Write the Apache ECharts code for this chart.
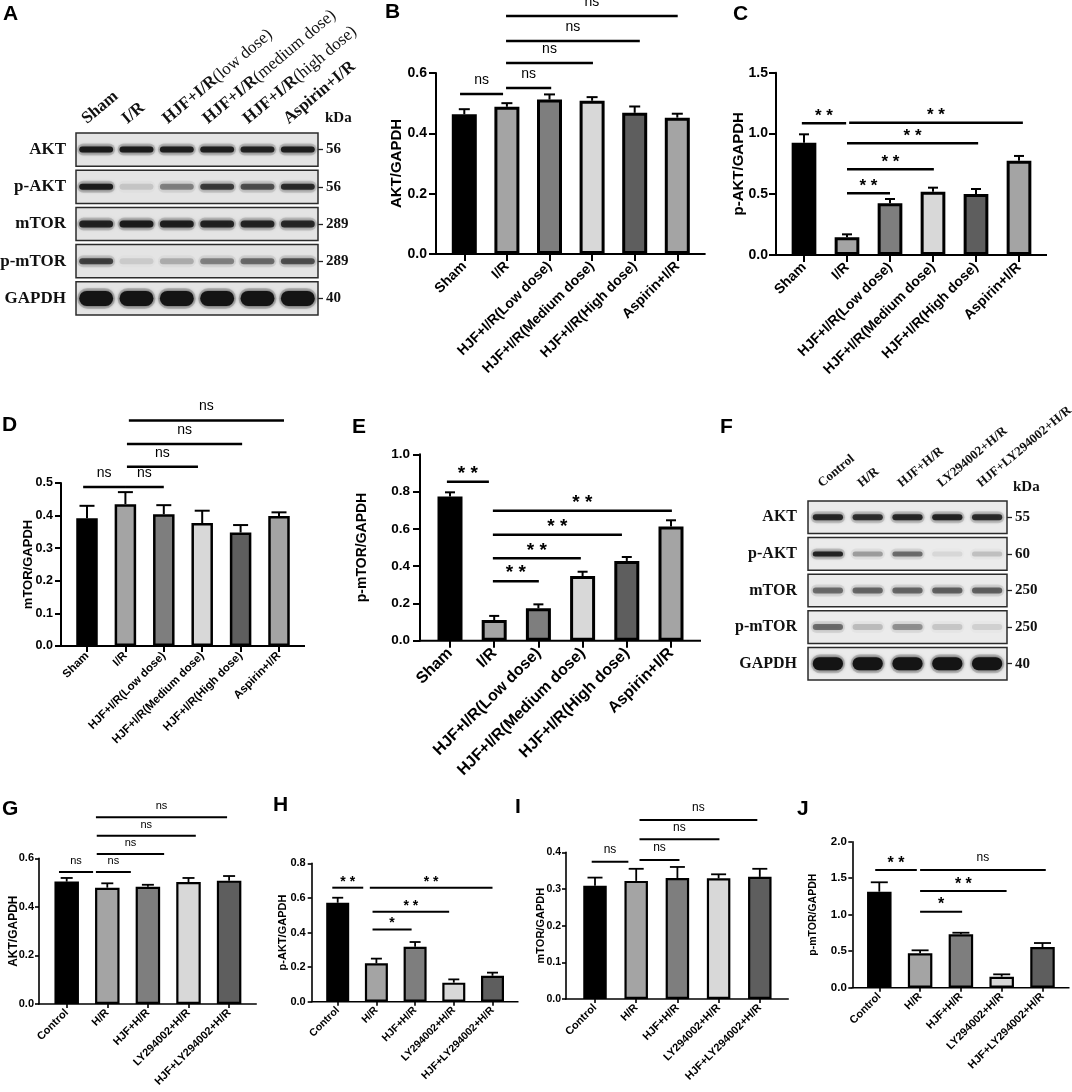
<!DOCTYPE html>
<html>
<head>
<meta charset="utf-8">
<title>HJF AKT/mTOR western blot</title>
<style>
  html, body { margin: 0; padding: 0; background: #fff; }
  #main { width: 1072px; height: 1092px; }
</style>
<script src="https://cdn.jsdelivr.net/npm/echarts@6/dist/echarts.min.js"></script>
</head>
<body>
<div id="main"></div>
<script>
// ---- groups ----
var irGroups = ['Sham', 'I/R', 'HJF+I/R(Low dose)', 'HJF+I/R(Medium dose)', 'HJF+I/R(High dose)', 'Aspirin+I/R'];
var irLanes = ['Sham', 'I/R', 'HJF+I/R(low dose)', 'HJF+I/R(medium dose)', 'HJF+I/R(high dose)', 'Aspirin+I/R'];
var hrGroups = ['Control', 'H/R', 'HJF+H/R', 'LY294002+H/R', 'HJF+LY294002+H/R'];
var blotProteins = ['AKT', 'p-AKT', 'mTOR', 'p-mTOR', 'GAPDH'];
var irKDa = ['56', '56', '289', '289', '40'];
var hrKDa = ['55', '60', '250', '250', '40'];

// band darkness, one row per protein (AKT, p-AKT, mTOR, p-mTOR, GAPDH)
var irBands = [
  [0.92, 0.92, 0.9, 0.9, 0.88, 0.9],
  [0.92, 0.12, 0.4, 0.72, 0.62, 0.82],
  [0.88, 0.92, 0.9, 0.88, 0.86, 0.84],
  [0.7, 0.1, 0.22, 0.4, 0.5, 0.62],
  [1, 1, 1, 1, 1, 1]
];
var hrBands = [
  [0.85, 0.8, 0.85, 0.88, 0.82],
  [0.88, 0.3, 0.5, 0.08, 0.16],
  [0.5, 0.52, 0.52, 0.55, 0.55],
  [0.5, 0.18, 0.35, 0.14, 0.1],
  [1, 1, 1, 1, 1]
];

// ---- B: AKT/GAPDH (I/R) ----
var aktMean = [0.463, 0.488, 0.512, 0.508, 0.468, 0.452];
var aktSem = [0.017, 0.012, 0.017, 0.012, 0.021, 0.013];
// [from, to (category units), height, label]
var aktSig = [[-0.1, 0.91, 0.53, 'ns'], [0.98, 2.04, 0.55, 'ns'], [0.98, 3.02, 0.633, 'ns'], [0.98, 4.12, 0.706, 'ns'], [0.98, 5.01, 0.789, 'ns']];

// ---- C: p-AKT/GAPDH (I/R) ----
var pAktMean = [0.924, 0.146, 0.425, 0.521, 0.502, 0.776];
var pAktSem = [0.069, 0.024, 0.036, 0.033, 0.041, 0.039];
var pAktSig = [[-0.05, 0.98, 1.084, '**'], [1.05, 5.09, 1.089, '**'], [1.0, 4.05, 0.919, '**'], [1.0, 3.02, 0.705, '**'], [1.0, 2.0, 0.508, '**']];

// ---- D: mTOR/GAPDH (I/R) ----
var mTorMean = [0.392, 0.435, 0.404, 0.377, 0.348, 0.399];
var mTorSem = [0.038, 0.037, 0.028, 0.038, 0.023, 0.011];
var mTorSig = [[-0.1, 0.99, 0.488, 'ns'], [0.99, 2.0, 0.488, 'ns'], [1.04, 2.89, 0.55, 'ns'], [1.04, 4.04, 0.62, 'ns'], [1.09, 5.13, 0.692, 'ns']];

// ---- E: p-mTOR/GAPDH (I/R) ----
var pMTorMean = [0.773, 0.111, 0.174, 0.347, 0.428, 0.612];
var pMTorSem = [0.023, 0.022, 0.021, 0.023, 0.021, 0.034];
var pMTorSig = [[-0.07, 0.88, 0.853, '**'], [0.97, 5.02, 0.697, '**'], [0.97, 3.89, 0.569, '**'], [0.97, 2.96, 0.442, '**'], [0.97, 2.01, 0.319, '**']];

// ---- G..J: H/R cells ----
var hrAktMean = [0.504, 0.479, 0.483, 0.502, 0.508];
var hrAktSem = [0.015, 0.018, 0.008, 0.017, 0.019];
var hrAktSig = [[-0.19, 0.65, 0.544, 'ns'], [0.72, 1.58, 0.544, 'ns'], [0.74, 2.4, 0.618, 'ns'], [0.74, 3.18, 0.693, 'ns'], [0.72, 3.95, 0.769, 'ns']];

var hrPAktMean = [0.572, 0.222, 0.318, 0.11, 0.15];
var hrPAktSem = [0.029, 0.027, 0.027, 0.019, 0.018];
var hrPAktSig = [[-0.14, 0.66, 0.659, '**'], [0.83, 4.0, 0.659, '**'], [0.9, 2.88, 0.52, '**'], [0.9, 1.91, 0.418, '*']];

var hrMTorMean = [0.309, 0.322, 0.33, 0.329, 0.333];
var hrMTorSem = [0.022, 0.033, 0.03, 0.011, 0.022];
var hrMTorSig = [[-0.08, 0.81, 0.374, 'ns'], [1.08, 2.05, 0.379, 'ns'], [1.08, 3.02, 0.4355, 'ns'], [1.08, 3.94, 0.488, 'ns']];

var hrPMTorMean = [1.315, 0.471, 0.731, 0.151, 0.557];
var hrPMTorSem = [0.129, 0.041, 0.022, 0.032, 0.055];
var hrPMTorSig = [[-0.1, 0.92, 1.612, '**'], [1.0, 4.08, 1.612, 'ns'], [1.0, 3.12, 1.325, '**'], [1.0, 2.03, 1.041, '*']];

var irColors = ['#000000', '#a4a4a4', '#7e7e7e', '#d8d8d8', '#5e5e5e', '#a4a4a4'];
var hrColors = ['#000000', '#a4a4a4', '#7e7e7e', '#d8d8d8', '#5e5e5e'];

var SANS = "'Liberation Sans', Arial, Helvetica, sans-serif";
var SERIF = "'Liberation Serif', 'Times New Roman', serif";

var option = {
  animation: false,
  backgroundColor: '#ffffff',
  title: [],
  grid: [],
  xAxis: [],
  yAxis: [],
  series: []
};

function letter(t, x, y) {
  option.title.push({
    text: t, left: x, top: y - 3, padding: 0,
    textStyle: { fontFamily: SANS, fontWeight: 'bold', fontSize: 21, color: '#000' }
  });
}

function errorBars(sem, capHalf, lw, pad, axisLw) {
  return function (params, api) {
    var i = api.value(0);
    var m = api.value(1);
    var base = api.coord([i, m]);
    var top = api.coord([i, m + sem[params.dataIndex]]);
    var kids = [
      { type: 'line', shape: { x1: base[0], y1: base[1], x2: top[0], y2: top[1] }, style: { stroke: '#000', lineWidth: lw } },
      { type: 'line', shape: { x1: top[0] - capHalf, y1: top[1], x2: top[0] + capHalf, y2: top[1] }, style: { stroke: '#000', lineWidth: lw } }
    ];
    if (params.dataIndex === 0) {
      // x axis line runs from the y axis to a small gap past the last bar
      var cs = params.coordSys;
      var y0 = cs.y + cs.height;
      kids.push({ type: 'line', shape: { x1: cs.x - pad - axisLw / 2, y1: y0, x2: cs.x + cs.width + pad, y2: y0 }, style: { stroke: '#000', lineWidth: axisLw } });
    }
    return { type: 'group', children: kids };
  };
}

function sigBars(list, lw, nsSize, starSize) {
  return function (params, api) {
    var d = list[params.dataIndex];
    var base = api.coord([0, d[2]]);
    var band = api.size([1, 0])[0];
    var x1 = base[0] + d[0] * band;
    var x2 = base[0] + d[1] * band;
    var y = base[1];
    var star = d[3].indexOf('*') >= 0;
    var fs = star ? starSize : nsSize;
    return {
      type: 'group',
      children: [
        { type: 'line', shape: { x1: x1, y1: y, x2: x2, y2: y }, style: { stroke: '#000', lineWidth: lw } },
        {
          type: 'text', x: (x1 + x2) / 2, y: y - (star ? 0.42 : 1.0) * fs,
          style: {
            text: star ? d[3].split('').join(' ') : d[3],
            fill: '#000', fontFamily: SANS, fontSize: fs,
            fontWeight: star ? 'bold' : 'normal',
            align: 'center', verticalAlign: 'middle'
          }
        }
      ]
    };
  };
}

function addBarPanel(p) {
  var gi = option.grid.length;
  option.grid.push({ left: p.left, top: p.top, width: p.width, height: p.height, containLabel: false, outerBoundsMode: 'none' });
  option.xAxis.push({
    type: 'category', gridIndex: gi, data: p.groups,
    axisLine: { show: false },
    axisTick: { show: true, alignWithLabel: true, length: p.tickLen, lineStyle: { color: '#000', width: p.axisLw } },
    axisLabel: { interval: 0, rotate: 45, margin: p.xMargin, color: '#000', fontFamily: SANS, fontWeight: 'bold', fontSize: p.xSize },
    splitLine: { show: false }
  });
  option.yAxis.push({
    type: 'value', gridIndex: gi, min: 0, max: p.max, interval: p.step, offset: p.offset,
    name: p.name, nameLocation: 'middle', nameGap: p.nameGap, nameMoveOverlap: false,
    nameTextStyle: { color: '#000', fontFamily: SANS, fontWeight: 'bold', fontSize: p.nameSize },
    axisLine: { show: true, lineStyle: { color: '#000', width: p.axisLw } },
    axisTick: { show: true, length: p.tickLen, lineStyle: { color: '#000', width: p.axisLw } },
    axisLabel: { margin: p.yMargin, color: '#000', fontFamily: SANS, fontWeight: 'bold', fontSize: p.tickSize, formatter: function (v) { return v.toFixed(1); } },
    splitLine: { show: false }
  });
  var xi = option.xAxis.length - 1;
  var yi = option.yAxis.length - 1;
  option.series.push({
    type: 'bar', xAxisIndex: xi, yAxisIndex: yi, barWidth: p.barW,
    data: p.mean.map(function (v, i) { return { value: v, itemStyle: { color: p.colors[i] } }; }),
    itemStyle: { borderColor: '#000', borderWidth: p.bw },
    z: 2
  });
  option.series.push({
    type: 'custom', xAxisIndex: xi, yAxisIndex: yi, clip: false, z: 3,
    data: p.mean.map(function (v, i) { return [i, v]; }),
    encode: { x: 0, y: 1 },
    renderItem: errorBars(p.sem, p.cap, p.errLw, p.offset, p.axisLw)
  });
  option.series.push({
    type: 'custom', xAxisIndex: xi, yAxisIndex: yi, clip: false, z: 3,
    data: p.sig.map(function (d) { return [0, d[2]]; }),
    encode: { x: 0, y: 1 },
    renderItem: sigBars(p.sig, p.sigLw, p.nsSize, p.starSize)
  });
}

function laneText(v) {
  var k = v.indexOf('(');
  return k < 0 ? '{b|' + v + '}' : '{b|' + v.slice(0, k) + '}{r|' + v.slice(k) + '}';
}

function addBlot(b) {
  // lane labels sit on their own grid, shifted left like the figure's
  var lg = option.grid.length;
  option.grid.push({ left: b.left + b.laneShift, top: b.top, width: b.width, height: b.height, containLabel: false, outerBoundsMode: 'none' });
  option.xAxis.push({
    type: 'category', gridIndex: lg, position: 'top', data: b.lanes,
    axisLine: { show: false }, axisTick: { show: false }, splitLine: { show: false },
    axisLabel: {
      interval: 0, rotate: 40, margin: b.laneMargin, formatter: laneText,
      rich: {
        b: { fontFamily: SERIF, fontWeight: 'bold', fontSize: b.laneSize, color: '#111' },
        r: { fontFamily: SERIF, fontWeight: 'normal', fontSize: b.laneSize, color: '#111' }
      }
    }
  });
  option.yAxis.push({ type: 'value', gridIndex: lg, show: false });

  var gi = option.grid.length;
  option.grid.push({ left: b.left, top: b.top, width: b.width, height: b.height, containLabel: false, outerBoundsMode: 'none' });
  option.xAxis.push({ type: 'category', gridIndex: gi, data: b.lanes, show: false });
  option.yAxis.push({
    type: 'category', gridIndex: gi, inverse: true, data: blotProteins,
    axisLine: { show: false }, axisTick: { show: false }, splitLine: { show: false },
    axisLabel: { margin: b.protMargin, color: '#111', fontFamily: SERIF, fontWeight: 'bold', fontSize: b.protSize }
  });
  option.yAxis.push({
    type: 'category', gridIndex: gi, inverse: true, position: 'right', data: b.kda,
    axisLine: { show: false }, splitLine: { show: false },
    axisTick: { show: true, alignWithLabel: true, length: 5, lineStyle: { color: '#222', width: 1.3 } },
    axisLabel: { margin: 8, color: '#111', fontFamily: SERIF, fontWeight: 'bold', fontSize: b.kdaSize }
  });
  var xi = option.xAxis.length - 1;
  var yi = option.yAxis.length - 2;

  option.series.push({
    type: 'custom', xAxisIndex: xi, yAxisIndex: yi, z: 1, clip: false,
    data: blotProteins.map(function (n, i) { return [0, i]; }),
    encode: { x: 0, y: 1 },
    renderItem: function (params, api) {
      var c = api.coord([0, api.value(1)]);
      var h = api.size([1, 1])[1];
      var cs = params.coordSys;
      return {
        type: 'rect',
        shape: { x: cs.x, y: c[1] - h / 2 + b.gap / 2, width: cs.width, height: h - b.gap },
        style: { fill: b.paper, stroke: '#2b2b2b', lineWidth: 1.5 }
      };
    }
  });

  var cells = [];
  b.bands.forEach(function (row, r) {
    row.forEach(function (a, l) { cells.push([l, r, a]); });
  });
  option.series.push({
    type: 'custom', xAxisIndex: xi, yAxisIndex: yi, z: 2, clip: false,
    data: cells,
    encode: { x: 0, y: 1 },
    renderItem: function (params, api) {
      var l = api.value(0), r = api.value(1), a = api.value(2);
      var c = api.coord([l, r]);
      var w = api.size([1, 1])[0] * b.bandRatio;
      var h = b.bandH[r];
      return {
        type: 'group',
        children: [
          { type: 'rect', shape: { x: c[0] - w / 2 - 2, y: c[1] - h / 2 - 3, width: w + 4, height: h + 6, r: (h + 6) / 2 },
            style: { fill: 'rgba(70,70,70,' + (a * 0.22) + ')' } },
          { type: 'rect', shape: { x: c[0] - w / 2, y: c[1] - h / 2, width: w, height: h, r: h / 2 },
            style: { fill: 'rgba(20,20,20,' + a + ')', shadowBlur: 4, shadowColor: 'rgba(0,0,0,' + (a * 0.7) + ')' } }
        ]
      };
    }
  });
}

// ---- panel letters ----
letter('A', 3, 7);
letter('B', 385, 5);
letter('C', 733, 7);
letter('D', 2, 418);
letter('E', 352, 420);
letter('F', 720, 420);
letter('G', 2, 802);
letter('H', 273, 798);
letter('I', 515, 800);
letter('J', 797, 802);
option.title.push({ text: 'kDa', left: 325, top: 111, padding: 0, textStyle: { fontFamily: SERIF, fontWeight: 'bold', fontSize: 15, color: '#111' } });
option.title.push({ text: 'kDa', left: 1013, top: 480, padding: 0, textStyle: { fontFamily: SERIF, fontWeight: 'bold', fontSize: 15, color: '#111' } });

// ---- blots ----
addBlot({
  left: 76, top: 131, width: 242, height: 186, lanes: irLanes, kda: irKDa, bands: irBands,
  laneShift: -12, laneMargin: 10, laneSize: 17, protMargin: 10, protSize: 17, kdaSize: 15,
  gap: 4, paper: '#e4e4e4', bandRatio: 0.84, bandH: [6, 6, 7, 6, 15]
});
addBlot({
  left: 808, top: 499, width: 199, height: 183, lanes: hrGroups, kda: hrKDa, bands: hrBands,
  laneShift: -8, laneMargin: 14, laneSize: 13, protMargin: 11, protSize: 16, kdaSize: 15,
  gap: 4, paper: '#ebebeb', bandRatio: 0.76, bandH: [6, 5, 6, 6, 13]
});

// ---- bar panels ----
addBarPanel({
  left: 443, top: 73, width: 255.6, height: 181, offset: 7, groups: irGroups, colors: irColors,
  mean: aktMean, sem: aktSem, sig: aktSig, max: 0.6, step: 0.2, name: 'AKT/GAPDH',
  nameGap: 32, nameSize: 15, tickSize: 14, xSize: 14, yMargin: 9, xMargin: 10, tickLen: 7,
  barW: 25, bw: 3, cap: 5.5, errLw: 2, axisLw: 2, sigLw: 2.5, nsSize: 14, starSize: 17
});
addBarPanel({
  left: 782.5, top: 72.7, width: 258, height: 182.3, offset: 6.5, groups: irGroups, colors: irColors,
  mean: pAktMean, sem: pAktSem, sig: pAktSig, max: 1.5, step: 0.5, name: 'p-AKT/GAPDH',
  nameGap: 29.5, nameSize: 15, tickSize: 14, xSize: 14, yMargin: 8, xMargin: 10, tickLen: 7,
  barW: 24.7, bw: 3, cap: 5, errLw: 2, axisLw: 2, sigLw: 2.5, nsSize: 14, starSize: 17
});
addBarPanel({
  left: 67.8, top: 483, width: 230.4, height: 163, offset: 6.8, groups: irGroups, colors: irColors,
  mean: mTorMean, sem: mTorSem, sig: mTorSig, max: 0.5, step: 0.1, name: 'mTOR/GAPDH',
  nameGap: 26, nameSize: 13, tickSize: 12.5, xSize: 11.5, yMargin: 8, xMargin: 8, tickLen: 6,
  barW: 21.5, bw: 2.5, cap: 7.5, errLw: 2, axisLw: 2, sigLw: 2.5, nsSize: 14, starSize: 17
});
addBarPanel({
  left: 427.9, top: 454.3, width: 265.2, height: 186.4, offset: 7.9, groups: irGroups, colors: irColors,
  mean: pMTorMean, sem: pMTorSem, sig: pMTorSig, max: 1.0, step: 0.2, name: 'p-mTOR/GAPDH',
  nameGap: 51, nameSize: 14, tickSize: 13.5, xSize: 16, yMargin: 10, xMargin: 10, tickLen: 7,
  barW: 25, bw: 3, cap: 5, errLw: 2, axisLw: 2, sigLw: 2.5, nsSize: 14, starSize: 19
});
addBarPanel({
  left: 46.4, top: 858.3, width: 203, height: 145.7, offset: 7.4, groups: hrGroups, colors: hrColors,
  mean: hrAktMean, sem: hrAktSem, sig: hrAktSig, max: 0.6, step: 0.2, name: 'AKT/GAPDH',
  nameGap: 19.5, nameSize: 12, tickSize: 11, xSize: 11, yMargin: 5, xMargin: 7, tickLen: 4,
  barW: 24.5, bw: 2.2, cap: 6, errLw: 1.8, axisLw: 1.6, sigLw: 2, nsSize: 11, starSize: 14
});
addBarPanel({
  left: 318.35, top: 863.3, width: 193.5, height: 138.4, offset: 6.65, groups: hrGroups, colors: hrColors,
  mean: hrPAktMean, sem: hrPAktSem, sig: hrPAktSig, max: 0.8, step: 0.2, name: 'p-AKT/GAPDH',
  nameGap: 23, nameSize: 11, tickSize: 11, xSize: 10.5, yMargin: 6, xMargin: 7, tickLen: 4,
  barW: 23, bw: 2.2, cap: 5.5, errLw: 1.8, axisLw: 1.6, sigLw: 2, nsSize: 11, starSize: 14
});
addBarPanel({
  left: 574.4, top: 852.3, width: 206, height: 146.7, offset: 8.4, groups: hrGroups, colors: hrColors,
  mean: hrMTorMean, sem: hrMTorSem, sig: hrMTorSig, max: 0.4, step: 0.1, name: 'mTOR/GAPDH',
  nameGap: 19.5, nameSize: 11, tickSize: 10.5, xSize: 11, yMargin: 5, xMargin: 7, tickLen: 4,
  barW: 23.5, bw: 2.2, cap: 7.5, errLw: 1.8, axisLw: 1.6, sigLw: 2, nsSize: 12, starSize: 14
});
addBarPanel({
  left: 858.9, top: 841.7, width: 204, height: 146, offset: 6.6, groups: hrGroups, colors: hrColors,
  mean: hrPMTorMean, sem: hrPMTorSem, sig: hrPMTorSig, max: 2.0, step: 0.5, name: 'p-mTOR/GAPDH',
  nameGap: 34, nameSize: 10.5, tickSize: 11.5, xSize: 11, yMargin: 5.5, xMargin: 7, tickLen: 4,
  barW: 24.5, bw: 2.2, cap: 8.5, errLw: 1.8, axisLw: 1.6, sigLw: 2, nsSize: 12, starSize: 16
});

var chart = echarts.init(document.getElementById('main'));
chart.setOption(option);
</script>
</body>
</html>
